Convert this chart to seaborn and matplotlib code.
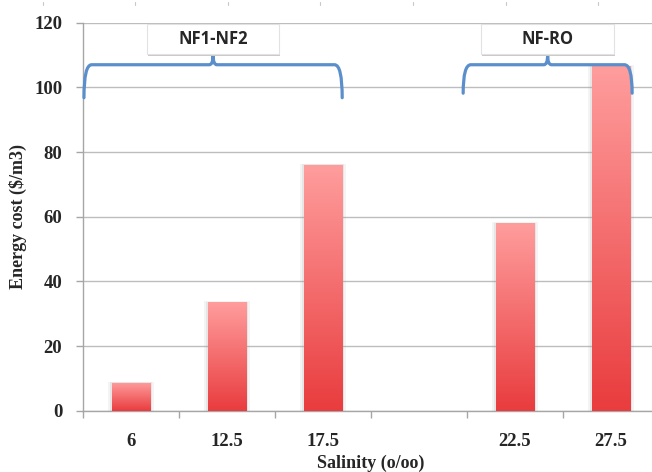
import numpy as np
import pandas as pd
import matplotlib
matplotlib.use("Agg")
import matplotlib.pyplot as plt
import seaborn as sns
from matplotlib.path import Path
from matplotlib.patches import PathPatch, FancyBboxPatch
from matplotlib.colors import LinearSegmentedColormap

# Energy cost per salinity level
salinity = ["6", "12.5", "17.5", "22.5", "27.5"]
energy_cost = [8.7, 33.5, 76, 58, 106.5]
category_order = ["6", "12.5", "17.5", " ", "22.5", "27.5"]
y_ticks = [0, 20, 40, 60, 80, 100, 120]

# Process groups shown with braces above the bars
groups = ["NF1-NF2", "NF-RO"]
group_spans = [(-0.49, 2.20), (3.46, 5.22)]
group_end_y = [96.8, 98.2]

sns.set_theme(style="white")
plt.rcParams["font.family"] = ["Liberation Serif", "DejaVu Serif"]

W, H = 652, 472
fig = plt.figure(figsize=(W / 100, H / 100), dpi=100)
ax = fig.add_axes([83 / W, 1 - 410.7 / H, 576 / W, (410.7 - 22.7) / H])

df = pd.DataFrame({"salinity": salinity, "cost": energy_cost})
sns.barplot(data=df, x="salinity", y="cost", order=category_order,
            width=0.4, color="#F06060", ax=ax, zorder=3, errorbar=None)

# Vertical gradient fill for each bar (light pink at top, red at bottom)
cmap = LinearSegmentedColormap.from_list("bar_grad", ["#E93C3E", "#FF9D9D"])
grad = np.linspace(0, 1, 256).reshape(-1, 1)
for patch in list(ax.patches):
    x0, y0 = patch.get_x(), patch.get_y()
    w, h = patch.get_width(), patch.get_height()
    if not np.isfinite(h) or h <= 0:
        continue
    # soft shadow around the bar
    for k, a in [(0.035, 0.10), (0.02, 0.15)]:
        ax.add_patch(plt.Rectangle((x0 - k, y0), w + 2 * k, h + k * 8,
                                   facecolor="#999999", alpha=a,
                                   edgecolor="none", zorder=2))
    im = ax.imshow(grad, cmap=cmap, origin="lower", aspect="auto",
                   extent=[x0, x0 + w, y0, y0 + h], zorder=3.5)
    im.set_clip_path(patch)
    patch.set_facecolor("none")
    patch.set_edgecolor("none")

ax.set_xlim(-0.5, 5.5)
ax.set_ylim(0, 120)
ax.set_yticks(y_ticks)
ax.set_xticks(range(len(category_order)))
ax.set_xticklabels(category_order)
ax.set_xticks(np.arange(-0.5, 5.6, 1.0), minor=True)

ax.grid(axis="y", color="#BDBDBD", linewidth=1.0, zorder=0)
ax.set_axisbelow(True)
for side in ["top", "right"]:
    ax.spines[side].set_visible(False)
for side in ["left", "bottom"]:
    ax.spines[side].set_color("#A6A6A6")
    ax.spines[side].set_linewidth(1.0)

ax.tick_params(axis="y", which="major", length=5, width=1, color="#A6A6A6",
               pad=10, labelsize=13.5, left=True)
ax.tick_params(axis="x", which="major", length=0, pad=16, labelsize=13.5)
ax.tick_params(axis="x", which="minor", length=5, width=1, color="#A6A6A6",
               bottom=True)
for lab in ax.get_xticklabels() + ax.get_yticklabels():
    lab.set_fontweight("bold")

ax.set_xlabel("")
ax.set_ylabel("Energy cost (\\$/m3)", fontsize=13, fontweight="bold",
              labelpad=5)
# x-axis title placed at the very bottom of the figure
fig.text((83 + 288) / W, 0.5 / H, "Salinity (o/oo)", ha="center",
         va="bottom", fontsize=13, fontweight="bold")


def brace_path(x0, x1, y_end, y_bar, y_tip, r=0.08, t=0.04):
    xm = (x0 + x1) / 2
    verts = [(x0, y_end), (x0, y_bar), (x0 + r, y_bar),
             (xm - t, y_bar), (xm, y_bar), (xm, y_tip),
             (xm, y_bar), (xm + t, y_bar),
             (x1 - r, y_bar), (x1, y_bar), (x1, y_end)]
    codes = [Path.MOVETO, Path.CURVE3, Path.CURVE3,
             Path.LINETO, Path.CURVE3, Path.CURVE3,
             Path.CURVE3, Path.CURVE3,
             Path.LINETO, Path.CURVE3, Path.CURVE3]
    return Path(verts, codes)


for name, (gx0, gx1), yend in zip(groups, group_spans, group_end_y):
    ax.add_patch(PathPatch(brace_path(gx0, gx1, yend, 107.0, 110.0),
                           facecolor="none", edgecolor="#5A8FCB",
                           linewidth=2.3, capstyle="round", zorder=6,
                           clip_on=False))
    xm = (gx0 + gx1) / 2
    bw, bh = 1.38, 9.4
    # shadow then white label box
    ax.add_patch(FancyBboxPatch((xm - bw / 2 + 0.01, 110.3 - 0.45), bw, bh,
                                boxstyle="square,pad=0", facecolor="#C9C9C9",
                                edgecolor="none", zorder=6, clip_on=False))
    ax.add_patch(FancyBboxPatch((xm - bw / 2, 110.3), bw, bh,
                                boxstyle="square,pad=0", facecolor="white",
                                edgecolor="#E2E2E2", linewidth=0.8, zorder=7,
                                clip_on=False))
    ax.text(xm, 110.3 + bh / 2, name, ha="center", va="center",
            fontsize=12, fontweight="bold",
            family=["Open Sans", "DejaVu Sans"], zorder=8)

# faint ruler marks along the top edge
for px in [43, 135, 228, 320, 413, 506, 598]:
    fig.add_artist(plt.Line2D([px / W, px / W], [1 - 1.5 / H, 1 - 4.5 / H],
                              transform=fig.transFigure, color="#C8C8C8",
                              linewidth=0.8))

fig.savefig("out.png", dpi=100)
